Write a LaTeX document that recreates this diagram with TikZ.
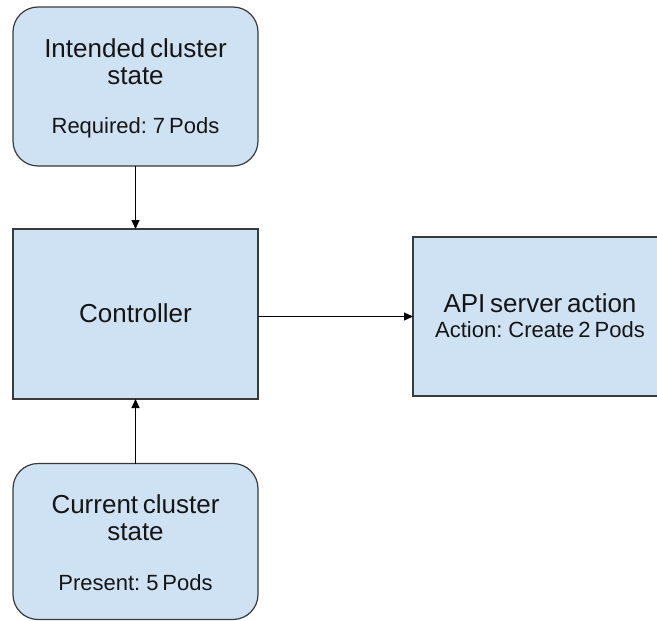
\documentclass[tikz,border=0pt]{standalone}
\usepackage{fontspec}
\setmainfont[WordSpace=0.65]{Liberation Sans}
\usetikzlibrary{arrows.meta}
\definecolor{boxfill}{HTML}{CFE2F3}
\definecolor{boxline}{HTML}{3A3A3A}
\definecolor{ink}{HTML}{151515}
\tikzset{
  block/.style={draw=boxline, fill=boxfill, line width=1.2pt, inner sep=0pt, outer sep=0pt},
  roundblock/.style={block, rounded corners=25pt},
  title/.style={anchor=base, text=ink, font=\fontsize{26}{29}\selectfont, inner sep=0pt},
  sub/.style={anchor=base, text=ink, font=\fontsize{22}{25}\selectfont, inner sep=0pt},
  link/.style={draw=black, line width=1.1pt, -{Triangle[length=9pt,width=8pt]}}
}
\begin{document}
\begin{tikzpicture}[x=1pt, y=-1pt]
  \useasboundingbox (0,0) rectangle (657,621);
  \begin{scope}
    \clip (0,0) rectangle (657,621);
    % boxes
    \node[roundblock, minimum width=245pt, minimum height=159pt] (intended) at (135.5,86.5) {};
    \node[block, minimum width=245pt, minimum height=170pt] (controller) at (135.5,314) {};
    \node[block, minimum width=254pt, minimum height=159pt] (api) at (540,316.5) {};
    \node[roundblock, minimum width=245pt, minimum height=156pt] (current) at (135.5,541.5) {};
  \end{scope}
  % labels
  \node[title] (t1a) at (135.5,57) {Intended cluster};
  \node[title] (t1b) at (135.5,84) {state};
  \node[sub]   (t1c) at (135.5,133) {Required: 7 Pods};
  \node[title] (t2)  at (135.5,322) {Controller};
  \node[title] (t3a) at (540,312) {API server action};
  \node[sub]   (t3b) at (540,337) {Action: Create 2 Pods};
  \node[title] (t4a) at (135.5,513) {Current cluster};
  \node[title] (t4b) at (135.5,540) {state};
  \node[sub]   (t4c) at (135.5,590) {Present: 5 Pods};
  % connectors
  \draw[link] (intended.south) -- (controller.north);
  \draw[link] (current.north) -- (controller.south);
  \draw[link] (api.west -| controller.east) -- (api.west);
\end{tikzpicture}
\end{document}
